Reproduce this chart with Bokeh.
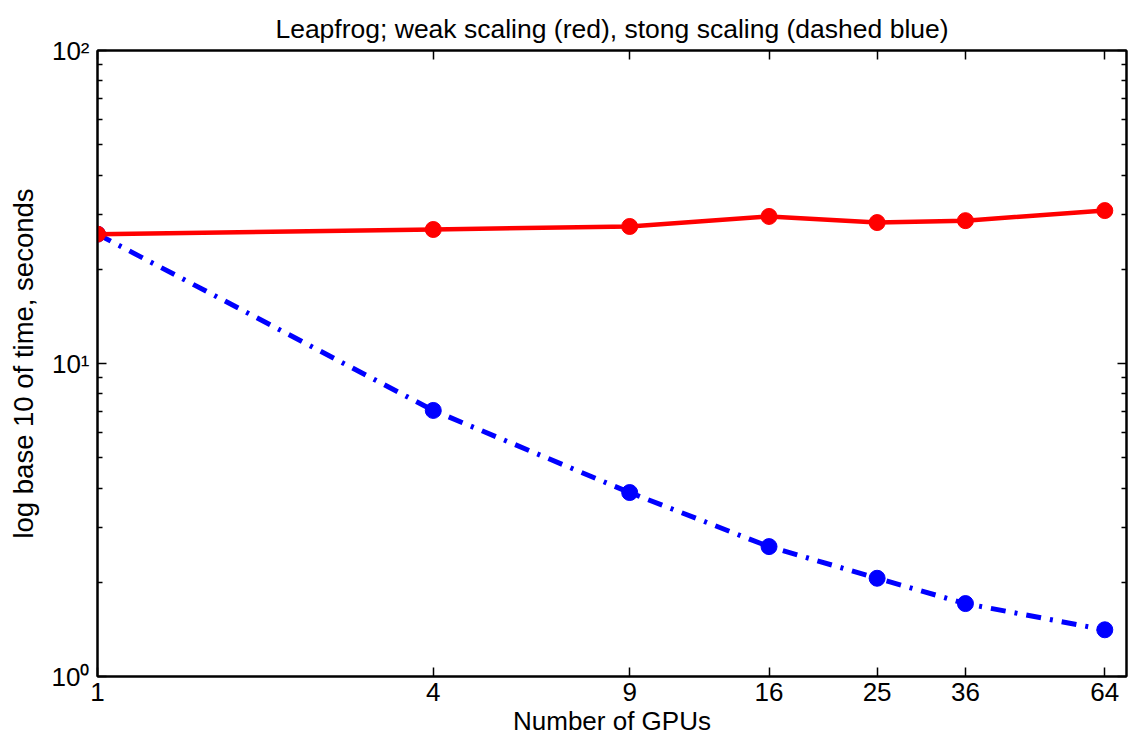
from bokeh.plotting import figure
from bokeh.models import Range1d, FixedTicker, LogAxis, CustomJSTickFormatter
from bokeh.embed import file_html
from bokeh.resources import INLINE

gpus = [1, 4, 9, 16, 25, 36, 64]
weak_time = [25.9, 26.8, 27.4, 29.5, 28.2, 28.6, 30.8]
strong_time = [25.9, 7.08, 3.87, 2.60, 2.06, 1.71, 1.41]
y_major = [1, 10, 100]
y_labels = {1: "10\u2070", 10: "10\u00b9", 100: "10\u00b2"}
title_text = "Leapfrog; weak scaling (red), stong scaling (dashed blue)"
x_label = "Number of GPUs"
y_label = "log base 10 of time, seconds"

FONT = "Liberation Sans"

p = figure(width=1130, height=746, x_axis_type="log", y_axis_type="log",
           x_range=Range1d(1, 70), y_range=Range1d(1, 100),
           output_backend="svg", toolbar_location=None,
           min_border_left=97, min_border_right=4, min_border_top=50,
           min_border_bottom=70)

p.title.text = title_text
p.title.align = "center"
p.title.text_font = FONT
p.title.text_font_size = "26.5px"
p.title.text_font_style = "normal"
p.title.text_color = "black"
p.title.standoff = 14

p.grid.visible = False
p.outline_line_color = "black"
p.outline_line_width = 2
p.background_fill_color = "white"
p.border_fill_color = "white"

y_minor = [m * d for d in [1, 10] for m in range(2, 10)]

def style_axis(ax):
    ax.axis_line_color = "black"
    ax.axis_line_width = 2
    ax.major_tick_in = 9
    ax.major_tick_out = 0
    ax.minor_tick_in = 5
    ax.minor_tick_out = 0
    ax.major_tick_line_color = "black"
    ax.minor_tick_line_color = "black"
    ax.major_tick_line_width = 1.5
    ax.minor_tick_line_width = 1.5
    ax.major_label_text_font = FONT
    ax.major_label_text_font_size = "26px"
    ax.major_label_text_color = "black"
    ax.axis_label_text_font = FONT
    ax.axis_label_text_font_size = "26px"
    ax.axis_label_text_font_style = "normal"
    ax.axis_label_text_color = "black"

xa = p.xaxis[0]
xa.ticker = FixedTicker(ticks=gpus, minor_ticks=[])
xa.major_label_overrides = {g: str(g) for g in gpus}
xa.axis_label = x_label
xa.major_label_standoff = 6
xa.axis_label_standoff = 2
style_axis(xa)

ya = p.yaxis[0]
ya.ticker = FixedTicker(ticks=y_major, minor_ticks=y_minor)
ya.major_label_overrides = y_labels
ya.axis_label = y_label
ya.major_label_standoff = 8
ya.axis_label_standoff = 10
style_axis(ya)
ya.axis_label_text_font_size = "27.5px"

blank = CustomJSTickFormatter(code="return '';")
top = LogAxis(ticker=FixedTicker(ticks=gpus, minor_ticks=[]), formatter=blank)
style_axis(top)
top.major_label_standoff = 0
top.major_label_text_font_size = "1px"
p.add_layout(top, "above")
right = LogAxis(ticker=FixedTicker(ticks=y_major, minor_ticks=y_minor), formatter=blank)
style_axis(right)
right.major_label_standoff = 0
right.major_label_text_font_size = "1px"
p.add_layout(right, "right")

p.line(gpus, strong_time, line_color="#0000ff", line_width=5, line_dash="15 9 3 9")
p.scatter(gpus, strong_time, size=16, fill_color="#0000ff", line_color="#0000ff")
p.line(gpus, weak_time, line_color="#ff0000", line_width=4.5)
p.scatter(gpus, weak_time, size=16, fill_color="#ff0000", line_color="#ff0000")

open("out.html", "w").write(file_html(p, INLINE))
